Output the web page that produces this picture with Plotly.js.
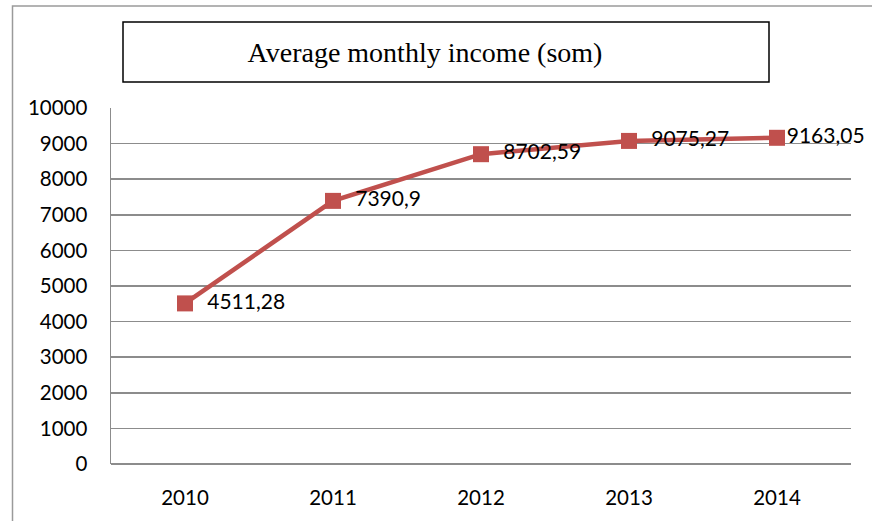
<!DOCTYPE html>
<html>
<head>
<meta charset="utf-8">
<script src="https://cdn.plot.ly/plotly-3.0.1.min.js"></script>
<style>
html,body{margin:0;padding:0;background:#fff;}
#chart{width:872px;height:521px;}
</style>
</head>
<body>
<div id="chart"></div>
<script>
const years = ['2010', '2011', '2012', '2013', '2014'];
const income = [4511.28, 7390.9, 8702.59, 9075.27, 9163.05];
const labels = ['4511,28', '7390,9', '8702,59', '9075,27', '9163,05'];
const yTicks = [0, 1000, 2000, 3000, 4000, 5000, 6000, 7000, 8000, 9000, 10000];
const yTickText = ['0', '1000', '2000', '3000', '4000', '5000', '6000', '7000', '8000', '9000', '10000'];
const titleText = 'Average monthly income (som)';

const lineColor = '#C0504D';
const gridColor = '#8c8c8c';
const sansFont = 'Lato, "Open Sans", sans-serif';

const lineTrace = {
  x: years,
  y: income,
  type: 'scatter',
  mode: 'lines+markers',
  line: {color: lineColor, width: 4.5},
  marker: {symbol: 'square', size: 16, color: lineColor},
  cliponaxis: false,
  hoverinfo: 'skip'
};

// invisible markers set how far each value label sits right of its point
// (the last one is pulled in so it stays inside the chart)
const labelTrace = {
  x: years,
  y: income,
  type: 'scatter',
  mode: 'markers+text',
  text: labels,
  textposition: 'middle right',
  textfont: {family: sansFont, size: 21, color: '#000'},
  marker: {size: [34, 34, 34, 34, 14], color: 'rgba(0,0,0,0)', line: {width: 0}},
  cliponaxis: false,
  hoverinfo: 'skip'
};

const layout = {
  width: 872,
  height: 521,
  margin: {l: 111, r: 21, t: 108, b: 57},
  paper_bgcolor: '#fff',
  plot_bgcolor: '#fff',
  showlegend: false,
  title: {
    text: titleText,
    font: {family: '"Liberation Serif", "Times New Roman", serif', size: 28, color: '#000'},
    x: 425 / 872, xref: 'container', xanchor: 'center',
    y: 1 - 52 / 521, yref: 'container', yanchor: 'middle'
  },
  xaxis: {
    type: 'category',
    range: [-0.5, 4.5],
    showgrid: false,
    showline: false,
    zeroline: false,
    ticks: 'outside', ticklen: 15, tickcolor: 'rgba(0,0,0,0)',
    tickfont: {family: sansFont, size: 20.5, color: '#000'},
    fixedrange: true
  },
  yaxis: {
    range: [0, 10000],
    tickvals: yTicks,
    ticktext: yTickText,
    showgrid: true,
    gridcolor: gridColor,
    gridwidth: 1.5,
    showline: true,
    linecolor: gridColor,
    linewidth: 1.5,
    zeroline: true,
    zerolinecolor: gridColor,
    zerolinewidth: 1.5,
    ticks: 'outside', ticklen: 18, tickcolor: 'rgba(0,0,0,0)',
    tickfont: {family: sansFont, size: 20.5, color: '#000'},
    fixedrange: true
  },
  shapes: [
    {type: 'rect', xref: 'paper', yref: 'paper',
     x0: (12.5 - 111) / 740, x1: 1.2, y0: -0.4, y1: (464 - 6) / 356,
     line: {color: '#9a9a9a', width: 1.5}, fillcolor: 'rgba(0,0,0,0)', layer: 'below'},
    {type: 'rect', xref: 'paper', yref: 'paper',
     x0: (123 - 111) / 740, x1: (769 - 111) / 740,
     y0: (464 - 82) / 356, y1: (464 - 22) / 356,
     line: {color: '#000', width: 1.5}, fillcolor: 'rgba(0,0,0,0)'}
  ]
};

Plotly.newPlot('chart', [lineTrace, labelTrace], layout, {displayModeBar: false, staticPlot: true});
</script>
</body>
</html>
